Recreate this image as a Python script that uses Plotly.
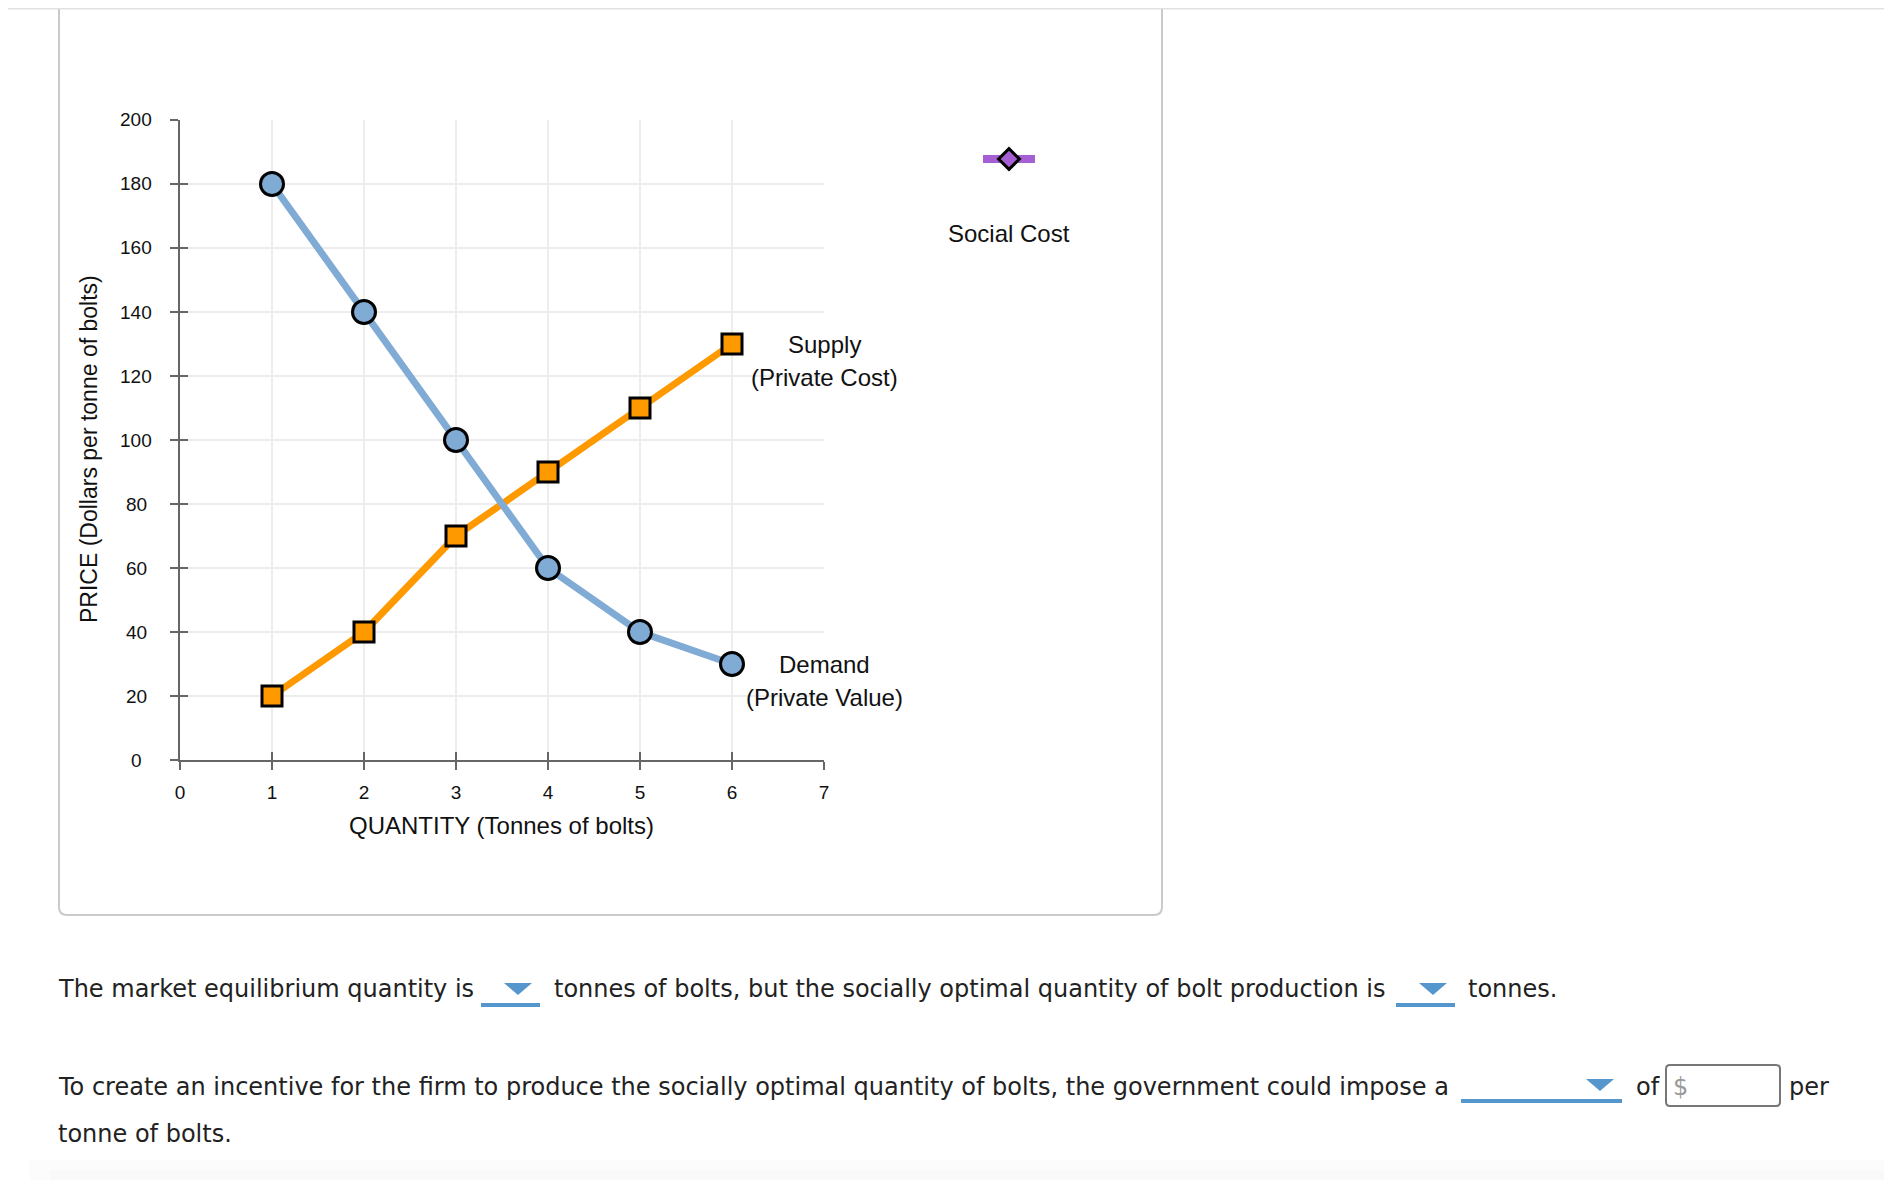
import plotly.graph_objects as go

# The page body keeps its default 8px margin, so the figure is 16px smaller
# than the window and every target pixel position is shifted by that margin.
PAGE_W, PAGE_H = 1892, 1188
M = 8
W, H = PAGE_W - 2 * M, PAGE_H - 2 * M

# ---------------- data ----------------
quantity = [1, 2, 3, 4, 5, 6]
demand_price = [180, 140, 100, 60, 40, 30]
supply_price = [20, 40, 70, 90, 110, 130]
x_tick_values = [0, 1, 2, 3, 4, 5, 6, 7]
y_tick_values = [0, 20, 40, 60, 80, 100, 120, 140, 160, 180, 200]

demand_label = ["Demand", "(Private Value)"]
supply_label = ["Supply", "(Private Cost)"]
social_label = "Social Cost"
x_title = "QUANTITY (Tonnes of bolts)"
y_title = "PRICE (Dollars per tonne of bolts)"

q1_a = "The market equilibrium quantity is"
q1_b = "tonnes of bolts, but the socially optimal quantity of bolt production is"
q1_c = "tonnes."
q2_a = "To create an incentive for the firm to produce the socially optimal quantity of bolts, the government could impose a"
q2_b = "of"
q2_c = "per"
q2_d = "tonne of bolts."

# ---------------- styles ----------------
CHART_FONT = "Arial, 'Liberation Sans', Helvetica, sans-serif"
TEXT_FONT = "'DejaVu Sans', Verdana, sans-serif"
BLUE = "#80abd5"
ORANGE = "#ff9900"
PURPLE = "#a65ed3"
AXIS = "#666666"
GRID = "#ededed"
UI_BLUE = "#5596cc"


def px(x):
    return (x - M) / W


def py(y):
    return 1 - (y - M) / H


PL, PR, PT, PB = 180, 824, 120, 760

fig = go.Figure()

fig.add_trace(go.Scatter(
    x=quantity, y=supply_price, mode="lines+markers", name=supply_label[0],
    line=dict(color=ORANGE, width=7),
    marker=dict(symbol="square", size=20, color=ORANGE, line=dict(color="black", width=3)),
    showlegend=False, hoverinfo="skip"))

fig.add_trace(go.Scatter(
    x=quantity, y=demand_price, mode="lines+markers", name=demand_label[0],
    line=dict(color=BLUE, width=7),
    marker=dict(symbol="circle", size=23, color=BLUE, line=dict(color="black", width=3)),
    showlegend=False, hoverinfo="skip"))

# palette item (legend only)
fig.add_trace(go.Scatter(
    x=[None], y=[None], mode="lines+markers", name=" ",
    line=dict(color=PURPLE, width=8),
    marker=dict(symbol="diamond", size=18, color=PURPLE, line=dict(color="black", width=3)),
    showlegend=True, hoverinfo="skip"))

# empty trace to host the overlay axes (inner tick halves)
fig.add_trace(go.Scatter(x=[], y=[], xaxis="x2", yaxis="y2", showlegend=False, hoverinfo="skip"))

tickfont = dict(family=CHART_FONT, size=19, color="#111111")
base_axis = dict(showline=True, linecolor=AXIS, linewidth=2, ticks="outside", ticklen=8,
                 tickwidth=2, tickcolor=AXIS, showgrid=True, gridcolor=GRID, gridwidth=1.5,
                 zeroline=False, tickfont=tickfont, fixedrange=True, automargin=False)

fig.update_layout(
    width=W, height=H, autosize=False,
    margin=dict(l=0, r=0, t=0, b=0, pad=0, autoexpand=False),
    paper_bgcolor="white", plot_bgcolor="white",
    xaxis=dict(domain=[px(PL), px(PR)], range=[0, 7], tickvals=x_tick_values,
               anchor="y", ticklabelstandoff=6, **base_axis),
    # y tick labels are centred in the reference, so they are drawn as annotations below
    yaxis=dict(domain=[py(PB), py(PT)], range=[0, 200], tickvals=y_tick_values,
               anchor="x", showticklabels=False, **base_axis),
    xaxis2=dict(domain=[px(PL), px(PR)], range=[0, 7], tickvals=x_tick_values, overlaying="x",
                anchor="y2", ticks="inside", ticklen=8, tickwidth=2, tickcolor=AXIS,
                showticklabels=False, showgrid=False, showline=False, zeroline=False,
                fixedrange=True, automargin=False),
    yaxis2=dict(domain=[py(PB), py(PT)], range=[0, 200], tickvals=y_tick_values, overlaying="y",
                anchor="x2", ticks="inside", ticklen=8, tickwidth=2, tickcolor=AXIS,
                showticklabels=False, showgrid=False, showline=False, zeroline=False,
                fixedrange=True, automargin=False),
    showlegend=True,
    legend=dict(x=px(978), y=py(159), xanchor="left", yanchor="middle",
                bgcolor="rgba(0,0,0,0)", borderwidth=0, itemwidth=52,
                font=dict(family=CHART_FONT, size=12), itemclick=False, itemdoubleclick=False),
    hovermode=False,
)

LABEL_SIZE = 24
ann = []
# centred y tick labels
for v in y_tick_values:
    ann.append(dict(x=px(136), y=v, xref="paper", yref="y", text=str(v), showarrow=False,
                    xanchor="center", yanchor="middle", font=tickfont))
# curve labels centred on x = 7
lab_x = x_tick_values[-1]
ann += [
    dict(x=lab_x, y=supply_price[-1], xref="x", yref="y", text=supply_label[0], showarrow=False,
         xanchor="center", yanchor="middle", font=dict(family=CHART_FONT, size=LABEL_SIZE, color="#111")),
    dict(x=lab_x, y=supply_price[-1], xref="x", yref="y", text=supply_label[1], showarrow=False,
         xanchor="center", yanchor="middle", yshift=-33, font=dict(family=CHART_FONT, size=LABEL_SIZE, color="#111")),
    dict(x=lab_x, y=demand_price[-1], xref="x", yref="y", text=demand_label[0], showarrow=False,
         xanchor="center", yanchor="middle", font=dict(family=CHART_FONT, size=LABEL_SIZE, color="#111")),
    dict(x=lab_x, y=demand_price[-1], xref="x", yref="y", text=demand_label[1], showarrow=False,
         xanchor="center", yanchor="middle", yshift=-33, font=dict(family=CHART_FONT, size=LABEL_SIZE, color="#111")),
]
# axis titles and palette label
ann += [
    dict(x=px((PL + PR) / 2), y=py(825), xref="paper", yref="paper", text=x_title, showarrow=False,
         xanchor="center", yanchor="middle", font=dict(family=CHART_FONT, size=LABEL_SIZE, color="#111")),
    dict(x=px(89), y=py(449), xref="paper", yref="paper", text=y_title, showarrow=False, textangle=-90,
         xanchor="center", yanchor="middle", font=dict(family=CHART_FONT, size=23, color="#111")),
    dict(x=px(1009), y=py(233), xref="paper", yref="paper", text=social_label, showarrow=False,
         xanchor="center", yanchor="middle", font=dict(family=CHART_FONT, size=LABEL_SIZE, color="#111")),
]


def txt(x, y, s, color="#222222"):
    return dict(x=px(x), y=py(y), xref="paper", yref="paper", text=s, showarrow=False,
                xanchor="left", yanchor="middle", font=dict(family=TEXT_FONT, size=24, color=color))


ann += [
    txt(56, 989, q1_a), txt(552, 989, q1_b), txt(1466, 989, q1_c),
    txt(56, 1087, q2_a), txt(1634, 1087, q2_b), txt(1787, 1087, q2_c),
    txt(1671, 1087, "$", color="#9a9a9a"),
    txt(56, 1134, q2_d),
]
fig.update_layout(annotations=ann)

shapes = []
# thin line of the page header
shapes.append(dict(type="line", xref="paper", yref="paper", x0=0, x1=1, y0=py(8.8), y1=py(8.8),
                   line=dict(color="#e2e2e2", width=1.5)))
# chart card border
L, R, B, r = 59, 1162, 915, 8
card = (f"M {px(L)},{py(9)} V {py(B - r)} Q {px(L)},{py(B)} {px(L + r)},{py(B)} "
        f"H {px(R - r)} Q {px(R)},{py(B)} {px(R)},{py(B - r)} V {py(9)}")
shapes.append(dict(type="path", xref="paper", yref="paper", path=card,
                   line=dict(color="#cacaca", width=2), fillcolor="rgba(0,0,0,0)"))


def dropdown(x0, x1, uy, tx0, tx1, ty0, ty1):
    out = [dict(type="rect", xref="paper", yref="paper", x0=px(x0), x1=px(x1), y0=py(uy + 4), y1=py(uy),
                fillcolor=UI_BLUE, line=dict(width=0))]
    tri = f"M {px(tx0)},{py(ty0)} L {px(tx1)},{py(ty0)} L {px((tx0 + tx1) / 2)},{py(ty1)} Z"
    out.append(dict(type="path", xref="paper", yref="paper", path=tri, fillcolor=UI_BLUE, line=dict(width=0)))
    return out


shapes += dropdown(481, 540, 1003, 504, 532, 983, 995)
shapes += dropdown(1396, 1455, 1003, 1419, 1447, 983, 995)
shapes += dropdown(1461, 1622, 1099, 1586, 1614, 1079, 1091)

# input box
bx0, bx1, by0, by1, rr = 1666, 1780, 1065, 1106, 4
box = (f"M {px(bx0 + rr)},{py(by0)} H {px(bx1 - rr)} Q {px(bx1)},{py(by0)} {px(bx1)},{py(by0 + rr)} "
       f"V {py(by1 - rr)} Q {px(bx1)},{py(by1)} {px(bx1 - rr)},{py(by1)} H {px(bx0 + rr)} "
       f"Q {px(bx0)},{py(by1)} {px(bx0)},{py(by1 - rr)} V {py(by0 + rr)} Q {px(bx0)},{py(by0)} {px(bx0 + rr)},{py(by0)} Z")
shapes.append(dict(type="path", xref="paper", yref="paper", path=box,
                   line=dict(color="#777777", width=2), fillcolor="white"))

# faint bottom shadow
shapes.append(dict(type="rect", xref="paper", yref="paper", x0=px(30), x1=1, y0=0, y1=py(1160),
                   fillcolor="rgba(0,0,0,0.01)", line=dict(width=0), layer="below"))
shapes.append(dict(type="rect", xref="paper", yref="paper", x0=px(50), x1=1, y0=0, y1=py(1170),
                   fillcolor="rgba(0,0,0,0.01)", line=dict(width=0), layer="below"))

fig.update_layout(shapes=shapes)

fig.write_html("out.html", config={"displayModeBar": False})
